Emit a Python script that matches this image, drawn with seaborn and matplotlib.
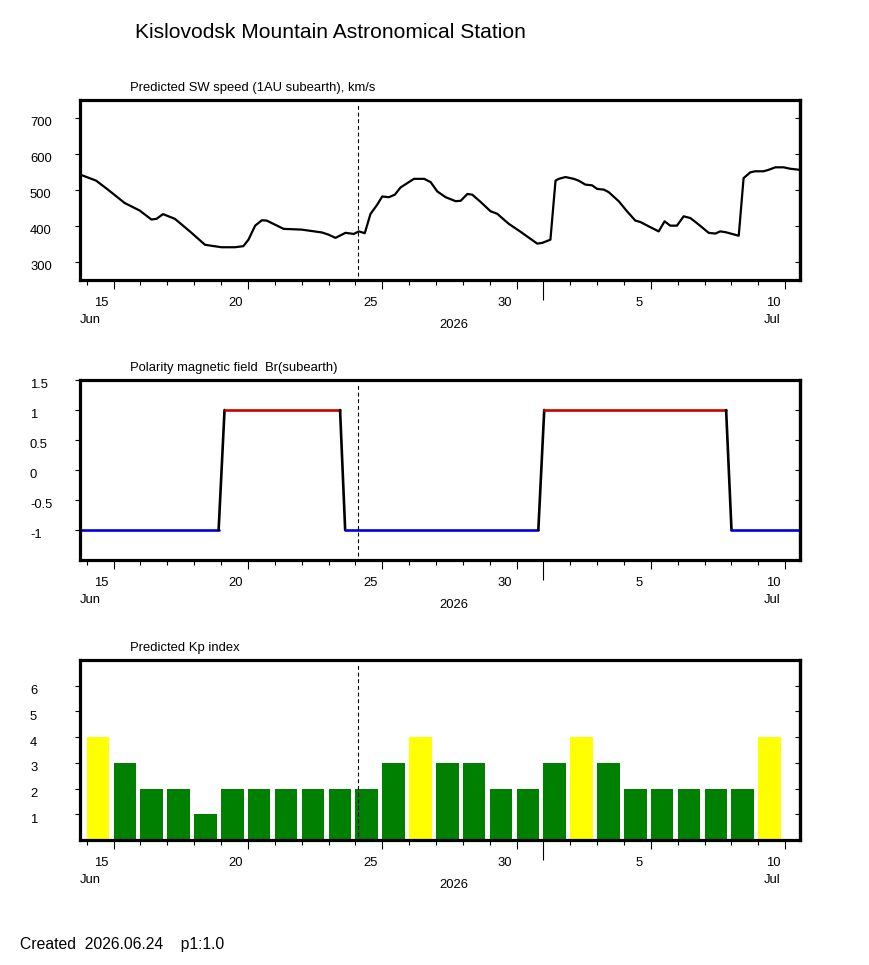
import numpy as np
import pandas as pd
import matplotlib
matplotlib.use("Agg")
import matplotlib.pyplot as plt
from matplotlib.transforms import ScaledTranslation
from matplotlib.ticker import FixedLocator
import seaborn as sns

# ---------------- data ----------------
# day numbers counted from June 1 (June 31 == July 1)
sw_days = [13.75, 14.35, 14.79, 15.41, 15.97, 16.41, 16.6, 16.84, 17.28, 17.84,
           18.4, 18.65, 19.02, 19.52, 19.83, 20.02, 20.27, 20.52, 20.7, 21.33,
           22.0, 22.76, 23.0, 23.26, 23.63, 23.94, 24.13, 24.35, 24.56, 24.81,
           25.0, 25.25, 25.47, 25.68, 26.18, 26.56, 26.8, 27.05, 27.36, 27.73,
           27.92, 28.17, 28.35, 28.66, 29.03, 29.28, 29.71, 30.09, 30.77, 30.95,
           31.26, 31.45, 31.57, 31.82, 32.13, 32.31, 32.56, 32.81, 33.0, 33.25,
           33.43, 33.8, 34.11, 34.42, 34.61, 34.92, 35.29, 35.51, 35.72, 35.97,
           36.22, 36.47, 36.78, 37.15, 37.4, 37.58, 37.77, 38.27, 38.45, 38.7,
           38.88, 39.19, 39.38, 39.63, 39.94, 40.19, 40.55]
sw_speed = [543, 526, 501, 464, 443, 418, 420, 433, 420, 385,
            348, 345, 341, 341, 344, 362, 401, 416, 415, 392,
            390, 382, 376, 367, 381, 378, 385, 380, 433, 459,
            482, 480, 487, 507, 531, 531, 522, 496, 480, 469,
            470, 489, 487, 467, 441, 434, 406, 387, 351, 353,
            362, 526, 531, 536, 531, 526, 515, 513, 503, 501,
            494, 469, 441, 415, 411, 399, 385, 413, 401, 401,
            427, 422, 404, 381, 379, 385, 383, 373, 533, 549,
            552, 552, 556, 563, 563, 559, 556]

br_days = [13.75, 18.91, 19.13, 23.43, 23.62, 30.81, 31.03, 37.80, 38.00, 40.55]
br_vals = [-1, -1, 1, 1, -1, -1, 1, 1, -1, -1]

kp_days = list(range(14, 40))
kp_vals = [4, 3, 2, 2, 1, 2, 2, 2, 2, 2, 2, 3, 4, 3, 3, 2, 2, 3, 4, 3, 2, 2, 2, 2, 2, 4]

now_day = 24.08
x_tick_pos = [15, 20, 25, 30, 31, 35, 40]
x_tick_lab = ["15", "20", "25", "30", "", "5", "10"]

sw_yticks = [300, 400, 500, 600, 700]
br_yticks = [-1, -0.5, 0, 0.5, 1, 1.5]
br_ylab = ["-1", "-0.5", "0", "0.5", "1", "1.5"]
kp_yticks = [1, 2, 3, 4, 5, 6]

# ---------------- style ----------------
sns.set_style("white")
plt.rcParams["font.family"] = ["Liberation Sans", "DejaVu Sans"]
plt.rcParams["text.color"] = "black"
plt.rcParams["xtick.color"] = "black"
plt.rcParams["ytick.color"] = "black"
plt.rcParams["axes.labelcolor"] = "black"

W, H = 870, 965
fig = plt.figure(figsize=(W / 100, H / 100), dpi=100)
fig.patch.set_facecolor("white")

def add_ax(top_px, bot_px):
    return fig.add_axes([80 / W, 1 - bot_px / H, 720 / W, (bot_px - top_px) / H])

ax1 = add_ax(100, 280)
ax2 = add_ax(380, 560)
ax3 = add_ax(660, 840)

XLIM = (13.75, 40.55)
TFS = 9.4

# ---- panel 1: solar wind speed
df_sw = pd.DataFrame({"day": sw_days, "speed": sw_speed})
sns.lineplot(data=df_sw, x="day", y="speed", ax=ax1, color="black", lw=1.6,
             estimator=None, sort=False)
ax1.set_ylim(250, 750)

# ---- panel 2: polarity
for i in range(len(br_days) - 1):
    a, b = br_vals[i], br_vals[i + 1]
    if a == b == -1:
        c = "#0000e0"
    elif a == b == 1:
        c = "#c80000"
    else:
        c = "black"
    seg = pd.DataFrame({"day": br_days[i:i + 2], "br": br_vals[i:i + 2]})
    sns.lineplot(data=seg, x="day", y="br", ax=ax2, color=c, lw=1.9,
                 estimator=None, sort=False)
ax2.set_ylim(-1.5, 1.5)

# ---- panel 3: Kp bars
df_kp = pd.DataFrame({"center": np.array(kp_days) + 0.42, "kp": kp_vals,
                      "lev": ["high" if v >= 4 else "low" for v in kp_vals]})
sns.barplot(data=df_kp, x="center", y="kp", hue="lev", ax=ax3, native_scale=True,
            palette={"high": "#ffff00", "low": "#008000"}, width=0.84,
            dodge=False, saturation=1, linewidth=0, legend=False)
ax3.set_ylim(0, 7)

# ---- common decoration
ylabels = [(ax1, sw_yticks, [str(v) for v in sw_yticks]),
           (ax2, br_yticks, br_ylab),
           (ax3, kp_yticks, [str(v) for v in kp_yticks])]

for ax, yt, yl in ylabels:
    ax.set_xlim(*XLIM)
    ax.set_xlabel("")
    ax.set_ylabel("")
    ax.axvline(now_day, color="black", lw=0.8, ls=(0, (3.5, 2.5)), ymin=0.02, ymax=0.97, zorder=5)
    for s in ax.spines.values():
        s.set_visible(True)
        s.set_linewidth(2.3)
        s.set_color("black")
        s.set_zorder(6)
    # x ticks
    ax.xaxis.set_major_locator(FixedLocator(x_tick_pos))
    ax.xaxis.set_minor_locator(FixedLocator([d for d in range(14, 41) if d not in x_tick_pos]))
    ax.set_xticklabels(x_tick_lab)
    ax.tick_params(axis="x", which="major", bottom=True, top=False, direction="out",
                   length=6.5, width=0.8, pad=5.4, labelsize=TFS, colors="black")
    ax.tick_params(axis="x", which="minor", bottom=True, top=False, direction="out",
                   length=3.6, width=0.8)
    # y ticks (left, outward)
    ax.yaxis.set_major_locator(FixedLocator(yt))
    ax.set_yticklabels(yl)
    ax.tick_params(axis="y", which="major", left=True, right=False, direction="out",
                   length=3.6, width=0.8, pad=32.4, labelsize=TFS, colors="black")
    # right inward ticks
    sec = ax.secondary_yaxis("right")
    sec.set_yticks(yt)
    sec.tick_params(axis="y", direction="in", length=3.6, width=0.8, labelright=False)
    sec.spines["right"].set_linewidth(2.3)
    # Jul 1 longer tick
    mt = ax.xaxis.get_major_ticks()
    mt[4].tick1line.set_markersize(14.5)
    for t in mt:
        t.label1.set_transform(t.label1.get_transform() +
                               ScaledTranslation(-0.12, 0, fig.dpi_scale_trans))
    for t in ax.yaxis.get_major_ticks():
        t.label1.set_horizontalalignment("left")
        t.label1.set_transform(t.label1.get_transform() +
                               ScaledTranslation(0, -0.04, fig.dpi_scale_trans))
    xt = ax.get_xaxis_transform()
    ax.text(0, -0.222, "Jun", transform=ax.transAxes, ha="left", va="center", fontsize=TFS)
    ax.text(27.65, -0.25, "2026", transform=xt, ha="center", va="center", fontsize=TFS)
    ax.text(40 - 0.47, -0.222, "Jul", transform=xt, ha="center", va="center", fontsize=TFS)

# ---- texts
fig.text(135 / W, 1 - 32 / H, "Kislovodsk Mountain Astronomical Station",
         ha="left", va="center", fontsize=15.1)
fig.text(130 / W, 1 - 88 / H, "Predicted SW speed (1AU subearth), km/s",
         ha="left", va="center", fontsize=9.4)
fig.text(130 / W, 1 - 368 / H, "Polarity magnetic field  Br(subearth)",
         ha="left", va="center", fontsize=9.4)
fig.text(130 / W, 1 - 648 / H, "Predicted Kp index",
         ha="left", va="center", fontsize=9.4)
fig.text(20 / W, 1 - 944 / H, "Created  2026.06.24    p1:1.0",
         ha="left", va="center", fontsize=11.3)

fig.savefig("out.png", dpi=100, facecolor="white")
